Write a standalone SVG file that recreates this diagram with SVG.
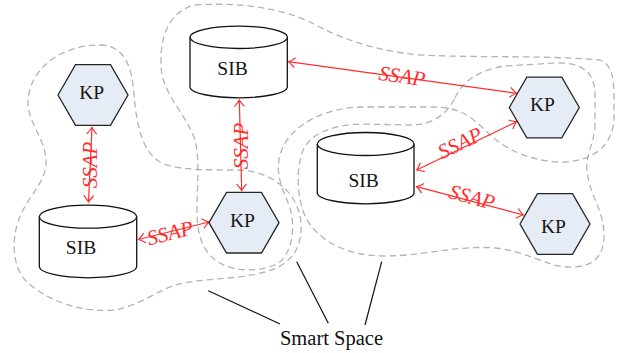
<svg xmlns="http://www.w3.org/2000/svg" width="617" height="353" viewBox="0 0 617 353">
<defs>
<marker id="arr" viewBox="-8 -6 10 12" refX="0" refY="0" markerWidth="10" markerHeight="12" markerUnits="userSpaceOnUse" orient="auto-start-reverse">
<path d="M-6.5,-5 Q-2,-1 0,0 Q-2,1 -6.5,5" fill="none" stroke="#ff2d2d" stroke-width="1.2"/>
</marker>
<style>
.blob{fill:none;stroke:#b3b3b3;stroke-width:1.3;stroke-dasharray:6.5 4}
.kp{fill:#e6ecf5;stroke:#262626;stroke-width:1.3}
.cyl{fill:#fff;stroke:#111;stroke-width:1.3}
.lbl{font-family:"Liberation Serif","Times New Roman",serif;font-size:19.5px;fill:#141414;text-anchor:middle}
.ssap{fill:none;stroke:#ff2d2d;stroke-width:1.2;marker-start:url(#arr);marker-end:url(#arr)}
.st{font-family:"Liberation Serif","Times New Roman",serif;font-style:italic;font-size:21px;fill:#ff2d2d;text-anchor:middle;dominant-baseline:central}
.ptr{stroke:#111;stroke-width:1.2;fill:none}
</style>
</defs>
<g id="smart-spaces">
<path class="blob" d="M100,45 C120,45 130,60 133,85 C136,120 140,150 160,162 C175,170 200,170 240,170 C275,172 300,195 301,225 C302,250 290,265 265,272 C235,280 200,278 175,285 C155,292 140,305 115,310 C80,313 45,300 25,280 C10,262 12,232 22,212 C32,192 47,180 46,160 C45,140 30,125 28,105 C27,70 60,45 100,45 Z"/>
<path class="blob" d="M195,5 C240,2 280,8 310,22 C340,38 370,50 420,55 C480,58 540,55 600,60 C613,65 614,80 614,100 L614,120 C612,145 595,160 565,162 C535,163 505,150 488,133 C470,115 460,107 430,107 L360,107 C325,108 290,125 281,152 C274,172 282,188 289,205 C296,225 293,250 280,262 C265,272 235,273 218,262 C200,250 197,230 197,210 C197,185 200,160 195,140 C188,118 168,100 162,75 C158,45 165,12 195,5 Z"/>
<path class="blob" d="M455,98 C462,82 478,70 505,66 L555,63 C582,62 595,72 595,95 L595,125 C594,145 585,155 587,170 C589,195 604,210 604,235 C604,258 592,268 567,267 C545,266 530,252 495,248 C455,245 425,256 385,256 C345,256 318,240 306,218 C296,198 296,165 304,148 C313,132 335,125 360,124 L410,125 C435,125 448,112 455,98 Z"/>
</g>
<g id="connectors">
<line class="ssap" x1="92" y1="127.5" x2="88.5" y2="202"/>
<line class="ssap" x1="239.3" y1="100" x2="241.7" y2="190.5"/>
<line class="ssap" x1="138.5" y1="239.5" x2="209" y2="222"/>
<line class="ssap" x1="288.5" y1="61.7" x2="516.5" y2="93.3"/>
<line class="ssap" x1="416.7" y1="170" x2="516.5" y2="121.7"/>
<line class="ssap" x1="416.7" y1="186.7" x2="523.3" y2="215"/>
<text class="st" transform="translate(90,165) rotate(-90)">SSAP</text>
<text class="st" transform="translate(240.5,146) rotate(-90)">SSAP</text>
<text class="st" transform="translate(170,233) rotate(-14)">SSAP</text>
<text class="st" transform="translate(402,76) rotate(7.9)">SSAP</text>
<text class="st" transform="translate(460,143) rotate(-25.8)">SSAP</text>
<text class="st" transform="translate(472,197) rotate(14.9)">SSAP</text>
<line class="ptr" x1="208.3" y1="290.7" x2="280" y2="324"/>
<line class="ptr" x1="296.7" y1="261.7" x2="328.3" y2="323.3"/>
<line class="ptr" x1="381.7" y1="261.7" x2="365" y2="325"/>
</g>
<g id="kp1">
<polygon class="kp" points="58,95 75.5,64.7 110.5,64.7 128,95 110.5,125.3 75.5,125.3"/>
<text class="lbl" x="91.7" y="99">KP</text>
</g>
<g id="kp2">
<polygon class="kp" points="209,222.7 226.5,192.4 261.5,192.4 279,222.7 261.5,253 226.5,253"/>
<text class="lbl" x="242.5" y="226.7">KP</text>
</g>
<g id="kp3">
<polygon class="kp" points="509.3,107.5 526.8,77.2 561.8,77.2 579.3,107.5 561.8,137.8 526.8,137.8"/>
<text class="lbl" x="542.5" y="110.5">KP</text>
</g>
<g id="kp4">
<polygon class="kp" points="520,224 537.5,193.7 572.5,193.7 590,224 572.5,254.3 537.5,254.3"/>
<text class="lbl" x="553.5" y="232.7">KP</text>
</g>
<g id="sib1">
<path class="cyl" d="M39.3,216.7 L39.3,266.5 A48.7,11.3 0 0 0 136.7,266.5 L136.7,216.7"/>
<ellipse class="cyl" cx="88" cy="216.7" rx="48.7" ry="11.5"/>
<text class="lbl" x="81" y="254.3">SIB</text>
</g>
<g id="sib2">
<path class="cyl" d="M190,37.3 L190,87.3 A48.7,11 0 0 0 287.3,87.3 L287.3,37.3"/>
<ellipse class="cyl" cx="238.7" cy="37.3" rx="48.7" ry="11.2"/>
<text class="lbl" x="232.5" y="75">SIB</text>
</g>
<g id="sib3">
<path class="cyl" d="M317.3,144 L317.3,193.3 A48.4,11 0 0 0 414,193.3 L414,144"/>
<ellipse class="cyl" cx="365.7" cy="144" rx="48.4" ry="11.5"/>
<text class="lbl" x="363.7" y="186.7">SIB</text>
</g>
<g id="label">
<text x="331.5" y="345" style="font-family:'Liberation Serif','Times New Roman',serif;font-size:20.5px;fill:#111;text-anchor:middle">Smart Space</text>
</g>
</svg>
